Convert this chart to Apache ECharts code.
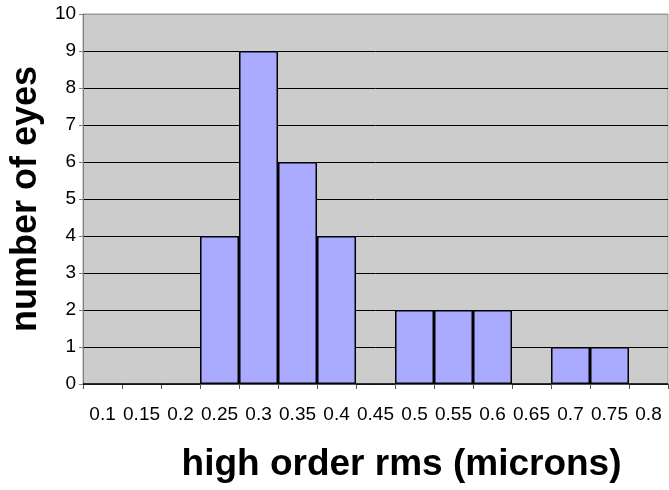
<!DOCTYPE html>
<html>
<head>
<meta charset="utf-8">
<script src="https://cdn.jsdelivr.net/npm/echarts@6/dist/echarts.min.js"></script>
<style>
  html, body { margin: 0; padding: 0; background: #ffffff; }
  #chart { width: 669px; height: 490px; }
</style>
</head>
<body>
<div id="chart"></div>
<script>
// Histogram bins (high order rms, microns) and eye counts per bin
const binLabels = ['0.1', '0.15', '0.2', '0.25', '0.3', '0.35', '0.4', '0.45', '0.5', '0.55', '0.6', '0.65', '0.7', '0.75', '0.8'];
const eyeCounts = [0, 0, 0, 4, 9, 6, 4, 0, 2, 2, 2, 0, 1, 1, 0];
const yTicks = [0, 1, 2, 3, 4, 5, 6, 7, 8, 9, 10];

const font = 'Liberation Sans, Arial, sans-serif';

// black grid lines, grey line on the top edge
const splitColors = yTicks.map((v, i) => (i === yTicks.length - 1 ? '#9a9a9a' : '#000000'));

const chart = echarts.init(document.getElementById('chart'), null, { renderer: 'canvas' });
chart.setOption({
  animation: false,
  backgroundColor: '#ffffff',
  grid: {
    left: 80, right: 1, top: 14, bottom: 106,
    show: true,
    backgroundColor: '#cccccc',
    borderColor: '#9a9a9a',
    borderWidth: 1
  },
  xAxis: {
    type: 'category',
    data: binLabels,
    boundaryGap: true,
    name: 'high order rms (microns)',
    nameLocation: 'middle',
    nameGap: 62,
    nameTextStyle: { fontFamily: font, fontSize: 37, fontWeight: 'bold', color: '#000', padding: [0, 0, 0, 52] },
    axisLine: { lineStyle: { color: '#555555', width: 1 } },
    axisTick: { show: true, length: 5, lineStyle: { color: '#555555' } },
    axisLabel: { interval: 0, fontFamily: font, fontSize: 19, color: '#000', margin: 21 },
    splitLine: { show: false }
  },
  yAxis: {
    type: 'value',
    min: yTicks[0],
    max: yTicks[yTicks.length - 1],
    interval: 1,
    name: 'number of eyes',
    nameLocation: 'middle',
    nameGap: 27,
    nameTextStyle: { fontFamily: font, fontSize: 36, fontWeight: 'bold', color: '#000' },
    axisLine: { show: true, lineStyle: { color: '#808080', width: 1 } },
    axisTick: { show: true, length: 4, lineStyle: { color: '#808080' } },
    axisLabel: { fontFamily: font, fontSize: 19, color: '#000', margin: 7 },
    splitLine: { show: true, lineStyle: { color: splitColors, width: 1 } }
  },
  series: [{
    type: 'bar',
    data: eyeCounts,
    barCategoryGap: '0%',
    itemStyle: { color: '#aaaaff', borderColor: '#000000', borderWidth: 1.5 }
  }]
});
</script>
</body>
</html>
